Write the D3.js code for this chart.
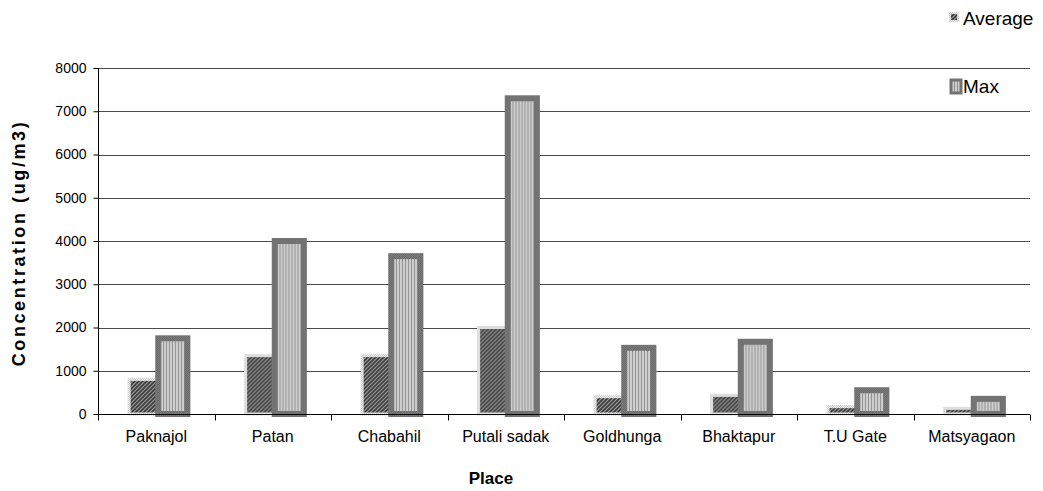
<!DOCTYPE html>
<html>
<head>
<meta charset="utf-8">
<script src="https://cdn.jsdelivr.net/npm/d3@7/dist/d3.min.js"></script>
<style>
  html, body { margin: 0; padding: 0; background: #fff; }
  svg { display: block; font-family: "Liberation Sans", Arial, sans-serif; }
</style>
</head>
<body>
<svg id="chart" width="1043" height="491"></svg>
<script>
// Particulate concentration by sampling place
const places = ["Paknajol", "Patan", "Chabahil", "Putali sadak", "Goldhunga", "Bhaktapur", "T.U Gate", "Matsyagaon"];
const seriesNames = ["Average", "Max"];
const averageValues = [800, 1350, 1350, 2000, 400, 430, 170, 130];
const maxValues = [1750, 4000, 3650, 7300, 1530, 1670, 550, 350];
const yTicks = [0, 1000, 2000, 3000, 4000, 5000, 6000, 7000, 8000];

const svg = d3.select("#chart");
const plot = { left: 98, right: 1030, top: 68, bottom: 414 };

// Fill patterns
const defs = svg.append("defs");
const hatch = defs.append("pattern").attr("id", "avgFill")
  .attr("patternUnits", "userSpaceOnUse").attr("width", 4).attr("height", 4);
hatch.append("rect").attr("width", 4).attr("height", 4).attr("fill", "#9a9a9a");
hatch.append("path").attr("d", "M-1,1 L1,-1 M0,4 L4,0 M3,5 L5,3")
  .attr("stroke", "#3c3c3c").attr("stroke-width", 1.6);

const edgeLight = defs.append("pattern").attr("id", "avgEdge")
  .attr("patternUnits", "userSpaceOnUse").attr("width", 2).attr("height", 2);
edgeLight.append("rect").attr("width", 2).attr("height", 2).attr("fill", "#f2f2f2");
edgeLight.append("rect").attr("width", 1).attr("height", 1).attr("fill", "#c8c8c8");
edgeLight.append("rect").attr("x", 1).attr("y", 1).attr("width", 1).attr("height", 1).attr("fill", "#c8c8c8");

const stripes = defs.append("pattern").attr("id", "maxFill")
  .attr("patternUnits", "userSpaceOnUse").attr("width", 3).attr("height", 3);
stripes.append("rect").attr("width", 3).attr("height", 3).attr("fill", "#cdcdcd");
stripes.append("rect").attr("width", 1).attr("height", 3).attr("fill", "#959595");

const edgeDark = defs.append("pattern").attr("id", "maxEdge")
  .attr("patternUnits", "userSpaceOnUse").attr("width", 2).attr("height", 2);
edgeDark.append("rect").attr("width", 2).attr("height", 2).attr("fill", "#7a7a7a");
edgeDark.append("rect").attr("width", 1).attr("height", 1).attr("fill", "#6c6c6c");
edgeDark.append("rect").attr("x", 1).attr("y", 1).attr("width", 1).attr("height", 1).attr("fill", "#6c6c6c");

// Scales
const x = d3.scaleBand().domain(places).range([plot.left, plot.right]).paddingInner(0).paddingOuter(0);
const xs = d3.scaleBand().domain(seriesNames).range([0, x.bandwidth()]).paddingInner(0).paddingOuter(1);
const y = d3.scaleLinear().domain([0, 8000]).range([plot.bottom, plot.top]);
const barShift = 2;

// Gridlines
svg.append("g").selectAll("line").data(yTicks.filter(t => t > 0)).join("line")
  .attr("x1", plot.left).attr("x2", plot.right)
  .attr("y1", d => Math.round(y(d)) + 0.5).attr("y2", d => Math.round(y(d)) + 0.5)
  .attr("stroke", "#4a4a4a").attr("stroke-width", 1);

// Bars
const rows = places.map((p, i) => ({ place: p, Average: averageValues[i], Max: maxValues[i] }));
const groups = svg.append("g").selectAll("g").data(rows).join("g")
  .attr("transform", d => `translate(${x(d.place) + barShift},0)`);

groups.append("rect")
  .attr("x", xs("Average")).attr("width", xs.bandwidth())
  .attr("y", d => y(d.Average)).attr("height", d => y(0) - y(d.Average))
  .attr("fill", "url(#avgFill)").attr("stroke", "url(#avgEdge)").attr("stroke-width", 3);

groups.append("rect")
  .attr("x", xs("Max")).attr("width", xs.bandwidth())
  .attr("y", d => y(d.Max)).attr("height", d => y(0) - y(d.Max))
  .attr("fill", "url(#maxFill)").attr("stroke", "url(#maxEdge)").attr("stroke-width", 6);

// Axes
const yAxis = d3.axisLeft(y).tickValues(yTicks).tickSize(5).tickPadding(7).tickFormat(d3.format("d"));
const gy = svg.append("g").attr("transform", `translate(${plot.left + 0.5},0)`).call(yAxis);
gy.select(".domain").attr("stroke", "#000").attr("d", `M0,${plot.top}V${plot.bottom}`);
gy.selectAll(".tick line").attr("stroke", "#000");
gy.selectAll(".tick text").attr("font-size", 14).attr("fill", "#000")
  .attr("font-family", "'Liberation Sans', Arial, sans-serif");

const gx = svg.append("g").attr("transform", `translate(0,${plot.bottom + 0.5})`);
gx.append("line").attr("x1", plot.left).attr("x2", plot.right).attr("stroke", "#000");
gx.selectAll(".sep").data(places.map(p => x(p)).concat([plot.right])).join("line")
  .attr("class", "sep")
  .attr("x1", d => Math.round(d) + 0.5).attr("x2", d => Math.round(d) + 0.5)
  .attr("y1", 0).attr("y2", 6).attr("stroke", "#000");
gx.selectAll("text").data(places).join("text")
  .attr("x", d => x(d) + x.bandwidth() / 2).attr("y", 27)
  .attr("text-anchor", "middle").attr("font-size", 16).attr("fill", "#000")
  .text(d => d);

// Axis titles
svg.append("text").attr("x", 491).attr("y", 484).attr("text-anchor", "middle")
  .attr("font-size", 17).attr("font-weight", "bold").text("Place");
svg.append("text").attr("transform", `translate(25,${(plot.top + plot.bottom) / 2 + 2}) rotate(-90)`)
  .attr("text-anchor", "middle").attr("font-size", 18).attr("font-weight", "bold")
  .attr("letter-spacing", 2.6)
  .text("Concentration (ug/m3)");

// Legend
const legend = svg.append("g");
legend.append("rect").attr("x", 950).attr("y", 13).attr("width", 8).attr("height", 8)
  .attr("fill", "url(#avgFill)").attr("stroke", "url(#avgEdge)").attr("stroke-width", 2);
legend.append("text").attr("x", 963).attr("y", 25).attr("font-size", 19).text("Average");
legend.append("rect").attr("x", 951).attr("y", 80).attr("width", 10).attr("height", 13)
  .attr("fill", "url(#maxFill)").attr("stroke", "url(#maxEdge)").attr("stroke-width", 3);
legend.append("text").attr("x", 963).attr("y", 93).attr("font-size", 19).text("Max");
</script>
</body>
</html>
